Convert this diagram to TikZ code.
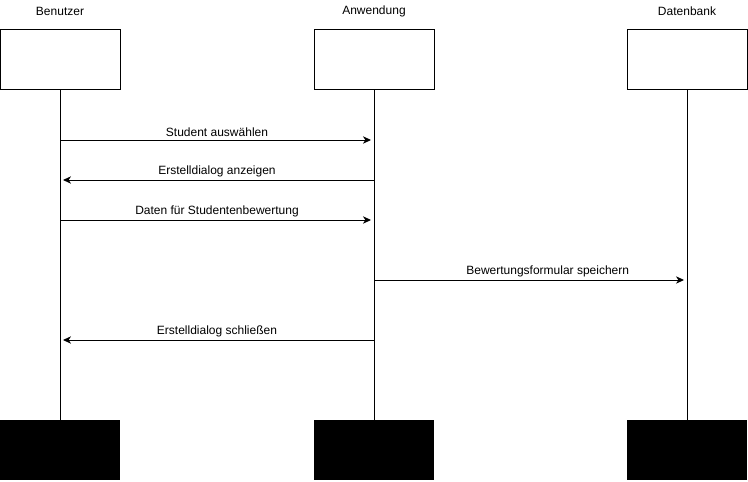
\documentclass[tikz,border=0pt]{standalone}
\usepackage{fontspec}
\setmainfont{Liberation Sans}
\usetikzlibrary{positioning,arrows.meta}
\tikzstyle{actor} = [draw, line width=0.75pt, minimum width=90pt, minimum height=45pt, inner sep=0pt]
\tikzstyle{actorEnd} = [fill=black, minimum width=90pt, minimum height=45pt, inner sep=0pt]
\tikzstyle{title} = [rectangle, text centered, font=\fontsize{9}{11}\selectfont]
\tikzstyle{lifeline} = [line width=0.75pt]
\tikzstyle{msg} = [-{Stealth[length=6pt,width=5.5pt,inset=1.8pt]}, line width=0.75pt, shorten >=2.25pt]
\tikzstyle{msgLabel} = [above, inner sep=2pt, font=\fontsize{9}{11}\selectfont]

\begin{document}
\begin{tikzpicture}[x=0.75pt,y=-0.75pt]
            \useasboundingbox (0,0) rectangle (748,481);
            % actors
            \node (ben) at (60,60) [actor] {};
            \node (anw) at (374,60) [actor] {};
            \node (db) at (687,60) [actor] {};
            \node (benT) at (60,11) [title] {Benutzer};
            \node (anwT) at (374,11) [title] {Anwendung};
            \node (dbT) at (687,11) [title] {Datenbank};
            \node (benEnd) at (60,450) [actorEnd] {};
            \node (anwEnd) at (374,450) [actorEnd] {};
            \node (dbEnd) at (687,450) [actorEnd] {};
            \draw[lifeline](ben.south)--(benEnd.north);
            \draw[lifeline](anw.south)--(anwEnd.north);
            \draw[lifeline](db.south)--(dbEnd.north);
            % messages
            \coordinate (b1) at (60,140);
            \coordinate (a1) at (374,140);
            \coordinate (b2) at (60,180);
            \coordinate (a2) at (374,180);
            \coordinate (b3) at (60,220);
            \coordinate (a3) at (374,220);
            \coordinate (a4) at (374,280);
            \coordinate (d4) at (687,280);
            \coordinate (b5) at (60,340);
            \coordinate (a5) at (374,340);
            \draw[msg](b1)--node[msgLabel] {Student auswählen}(a1);
            \draw[msg](a2)--node[msgLabel] {Erstelldialog anzeigen}(b2);
            \draw[msg](b3)--node[msgLabel] {Daten für Studentenbewertung}(a3);
            \draw[msg](a4)--node[msgLabel, pos=0.555] {Bewertungsformular speichern}(d4);
            \draw[msg](a5)--node[msgLabel] {Erstelldialog schließen}(b5);
\end{tikzpicture}
\end{document}
